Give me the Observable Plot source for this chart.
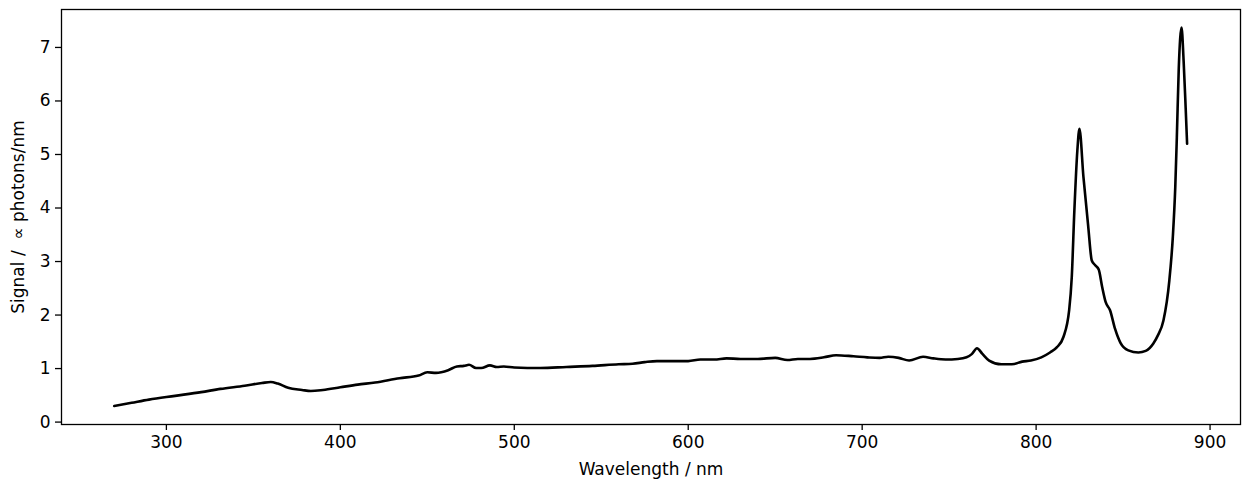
<!DOCTYPE html>
<html>
<head>
<meta charset="utf-8">
<script src="https://cdn.jsdelivr.net/npm/d3@7"></script>
<script src="https://cdn.jsdelivr.net/npm/@observablehq/plot@0.6"></script>
<style>
  html, body { margin: 0; padding: 0; background: #fff; }
  #chart svg { display: block; }
</style>
</head>
<body>
<div id="chart"></div>
<script>
const wavelength = [270,280,290,305,320,331,345,355,360,364,370,378,383,390,400,410,420,434,445,450,455,462,467,471,474,478,481,486,490,494,500,515,530,545,560,568,575,582,590,600,607,615,622,630,640,650,657,663,670,678,685,695,703,710,715,721,727,735,741,748,755,760,763,766,769,773,780,786,792,797,803,808,812,815.7,819,820.5,822,823.7,824.9,827.2,830,832,834,836,838,840,842.5,845.4,848.5,853,858.8,863,867.4,870,873.2,876.6,878.6,880,880.9,882,883.6,884.8,886,886.8];
const signal = [0.30,0.36,0.42,0.49,0.56,0.62,0.68,0.73,0.75,0.72,0.64,0.60,0.58,0.60,0.65,0.70,0.74,0.82,0.87,0.93,0.92,0.97,1.04,1.05,1.07,1.01,1.01,1.06,1.03,1.04,1.02,1.01,1.03,1.05,1.08,1.09,1.12,1.14,1.14,1.14,1.17,1.17,1.19,1.18,1.18,1.20,1.16,1.18,1.18,1.21,1.25,1.23,1.21,1.20,1.22,1.20,1.15,1.22,1.19,1.17,1.18,1.21,1.27,1.38,1.28,1.15,1.08,1.08,1.13,1.15,1.21,1.30,1.40,1.59,2.09,2.71,3.96,5.07,5.48,4.58,3.64,3.02,2.93,2.85,2.52,2.24,2.09,1.74,1.48,1.34,1.30,1.33,1.47,1.62,1.90,2.65,3.46,4.39,5.32,6.60,7.37,6.75,5.85,5.20];
const xTicks = [300,400,500,600,700,800,900];
const yTicks = [0,1,2,3,4,5,6,7];
const xLabel = "Wavelength / nm";
const yLabel = "Signal /  \u221d photons/nm";

const data = wavelength.map((w, i) => ({w, s: signal[i]}));

const chart = Plot.plot({
  width: 1245,
  height: 479,
  marginLeft: 61,
  marginRight: 5,
  marginTop: 9,
  marginBottom: 55,
  style: {fontFamily: "DejaVu Sans", fontSize: "17px", color: "#000", background: "#fff"},
  x: {domain: [239.7, 917.5]},
  y: {domain: [-0.045, 7.709]},
  marks: [
    Plot.axisX({ticks: xTicks, tickSize: 6, tickPadding: 5, strokeWidth: 1.3, label: null, fontSize: 17}),
    Plot.axisY({ticks: yTicks, tickSize: 6, tickPadding: 5, strokeWidth: 1.3, label: null, fontSize: 17}),
    Plot.line(data, {x: "w", y: "s", stroke: "#000", strokeWidth: 2.6, curve: "monotone-x", strokeLinejoin: "round"}),
    Plot.frame({stroke: "#000", strokeWidth: 1.3}),
    Plot.text([xLabel], {frameAnchor: "bottom", dy: 45, text: d => d, fontSize: 17, lineAnchor: "middle"}),
    Plot.text([yLabel], {frameAnchor: "left", dx: -43, rotate: -90, text: d => d, fontSize: 17, lineAnchor: "middle", textAnchor: "middle"})
  ]
});
document.getElementById("chart").appendChild(chart);
</script>
</body>
</html>
